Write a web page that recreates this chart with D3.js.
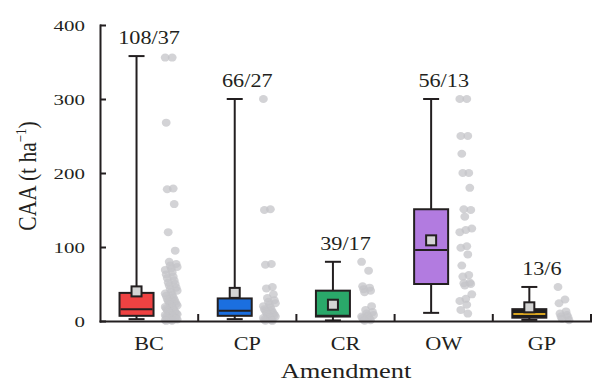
<!DOCTYPE html>
<html>
<head>
<meta charset="utf-8">
<script src="https://cdn.jsdelivr.net/npm/d3@7"></script>
<style>
  html, body { margin: 0; padding: 0; background: #fff; }
  svg { display: block; font-family: "Liberation Serif", "Times New Roman", serif; }
</style>
</head>
<body>
<div id="chart"></div>
<script>
// categories and box statistics (t ha-1)
const categories = ["BC", "CP", "CR", "OW", "GP"];
const countLabels = ["108/37", "66/27", "39/17", "56/13", "13/6"];
const whiskerLow = [2.5, 2.5, 0.8, 11, 1.5];
const q1 = [7, 7, 6, 50, 4.5];
const median = [16, 14, 7, 96, 9.5];
const q3 = [38, 30.5, 41, 151, 16];
const whiskerHigh = [358, 300, 80, 300, 46];
const means = [40, 38, 22, 109, 18.5];
const boxColors = ["#ef4242", "#1b6fe0", "#2aa86a", "#b27be0", "#1e1e1e"];
const medianColors = ["#231f20", "#231f20", "#231f20", "#231f20", "#d9a521"];
const yTicks = [0, 100, 200, 300, 400];

// raw observations shown as grey points
const dotsBC = [356, 356, 268, 179, 178, 158, 120, 95, 80, 77, 75, 73, 71, 69, 66, 63, 60, 58, 55, 52,
  50, 48, 45, 43, 41, 39, 37, 35, 34, 32, 30, 29, 27, 26, 25, 23, 22, 21, 20, 19, 18, 17, 16, 15,
  14, 13, 12, 11, 10, 10, 9, 8, 8, 7, 6, 6, 5, 5, 4, 4, 3, 3, 2, 2, 1, 1, 0.5, 0.2];
const dotsCP = [300, 151, 150, 77, 76, 46, 44, 36, 31, 28, 26, 24, 22, 20, 18, 16, 15, 14, 12, 11,
  10, 9, 8, 7, 6, 5, 4, 3, 2, 1, 0.5, 0.2];
const dotsCR = [80, 68, 47, 45, 43, 41, 39, 20, 15, 12, 10, 8, 7, 6, 5, 4, 3, 2, 1, 0.5];
const dotsOW = [300, 300, 250, 250, 226, 200, 200, 180, 151, 150, 141, 125, 123, 120, 101, 99, 90,
  75, 62, 60, 52, 51, 50, 48, 36, 30, 27, 22, 15, 10];
const dotsGP = [46, 29, 24, 13, 10, 8, 6, 5, 3, 1];
const dotSets = [dotsBC, dotsCP, dotsCR, dotsOW, dotsGP];

const W = 592, H = 383;
const ink = "#231f20";

const svg = d3.select("#chart").append("svg")
  .attr("width", W)
  .attr("height", H);

const x = d3.scaleBand().domain(categories).range([100, 591]).padding(0);
const y = d3.scaleLinear().domain([0, 400]).range([321, 25]);

const bw = x.bandwidth();
const boxW = 34, capW = 16, meanS = 10;
const boxX = c => x(c) + bw * 0.372;
const dotX = c => x(c) + bw * 0.725;

// text with a horizontal stretch (the figure's lettering is wide)
function label(g, px, py, str, size, sx, anchor) {
  return g.append("text")
    .attr("transform", `translate(${px},${py}) scale(${sx},1)`)
    .attr("text-anchor", anchor)
    .attr("font-size", size)
    .attr("fill", ink)
    .text(str);
}

// points
const dotG = svg.append("g");
categories.forEach((c, i) => {
  dotG.selectAll(null)
    .data(dotSets[i])
    .enter()
    .append("ellipse")
    .attr("cx", (d, j) => dotX(c) + (((j * 7) % 13) - 6) * 1.0)
    .attr("cy", d => y(d))
    .attr("rx", 4.4)
    .attr("ry", 4)
    .attr("fill", "#c4c4c8")
    .attr("fill-opacity", 0.75);
});

// boxes
const boxG = svg.append("g")
  .attr("stroke", ink)
  .attr("stroke-width", 2);

categories.forEach((c, i) => {
  const cx = boxX(c);
  const g = boxG.append("g");
  // whisker stem
  g.append("line")
    .attr("x1", cx).attr("x2", cx)
    .attr("y1", y(whiskerLow[i])).attr("y2", y(whiskerHigh[i]));
  // caps
  [whiskerLow[i], whiskerHigh[i]].forEach(v => {
    g.append("line")
      .attr("x1", cx - capW / 2).attr("x2", cx + capW / 2)
      .attr("y1", y(v)).attr("y2", y(v));
  });
  // box
  g.append("rect")
    .attr("x", cx - boxW / 2)
    .attr("y", y(q3[i]))
    .attr("width", boxW)
    .attr("height", y(q1[i]) - y(q3[i]))
    .attr("fill", boxColors[i]);
  // median
  g.append("line")
    .attr("x1", cx - boxW / 2 + 1).attr("x2", cx + boxW / 2 - 1)
    .attr("y1", y(median[i])).attr("y2", y(median[i]))
    .attr("stroke", medianColors[i]);
  // mean
  g.append("rect")
    .attr("x", cx - meanS / 2)
    .attr("y", y(means[i]) - meanS / 2)
    .attr("width", meanS)
    .attr("height", meanS)
    .attr("fill", "#d4d4d4");
});

// n / studies labels above each whisker
categories.forEach((c, i) => {
  label(svg, x(c) + bw / 2, y(whiskerHigh[i]) - 12, countLabels[i], 19, 1.17, "middle");
});

// y axis
const axisY = svg.append("g")
  .attr("transform", "translate(100,0)")
  .call(d3.axisLeft(y).tickValues(yTicks).tickSizeInner(-6).tickSizeOuter(0))
  .attr("font-family", null)
  .attr("font-size", null);
axisY.select(".domain").attr("stroke", ink).attr("stroke-width", 2).attr("stroke-linecap", "square");
axisY.selectAll(".tick line").attr("stroke", ink).attr("stroke-width", 2);
axisY.selectAll(".tick text")
  .attr("x", 0).attr("dy", "0.36em")
  .attr("transform", "translate(-15,0) scale(1.35,1)")
  .attr("font-size", 15.5)
  .attr("fill", ink);

// x axis
const axisX = svg.append("g")
  .attr("transform", "translate(0,321)")
  .call(d3.axisBottom(x).tickSize(0).tickSizeOuter(0).tickPadding(0))
  .attr("font-family", null)
  .attr("font-size", null);
axisX.select(".domain").attr("stroke", ink).attr("stroke-width", 2).attr("stroke-linecap", "square");
axisX.selectAll(".tick text")
  .attr("y", 0).attr("dy", null)
  .attr("transform", "translate(0,29) scale(1.17,1)")
  .attr("font-size", 19)
  .attr("fill", ink);
// boundary ticks between categories, pointing up
axisX.selectAll(".bound")
  .data(categories)
  .enter()
  .append("line")
  .attr("x1", c => x(c) + bw).attr("x2", c => x(c) + bw)
  .attr("y1", 0).attr("y2", -7)
  .attr("stroke", ink)
  .attr("stroke-width", 2);

// axis titles
label(svg, 346, 378, "Amendment", 21.5, 1.23, "middle");

const yt = svg.append("text")
  .attr("transform", "translate(36,176) scale(1.2,1) rotate(-90)")
  .attr("text-anchor", "middle")
  .attr("font-size", 21.5)
  .attr("fill", ink);
yt.append("tspan").text("CAA (t ha");
yt.append("tspan").attr("font-size", 13).attr("dy", -8).text("\u22121");
yt.append("tspan").attr("dy", 8).text(")");
</script>
</body>
</html>
